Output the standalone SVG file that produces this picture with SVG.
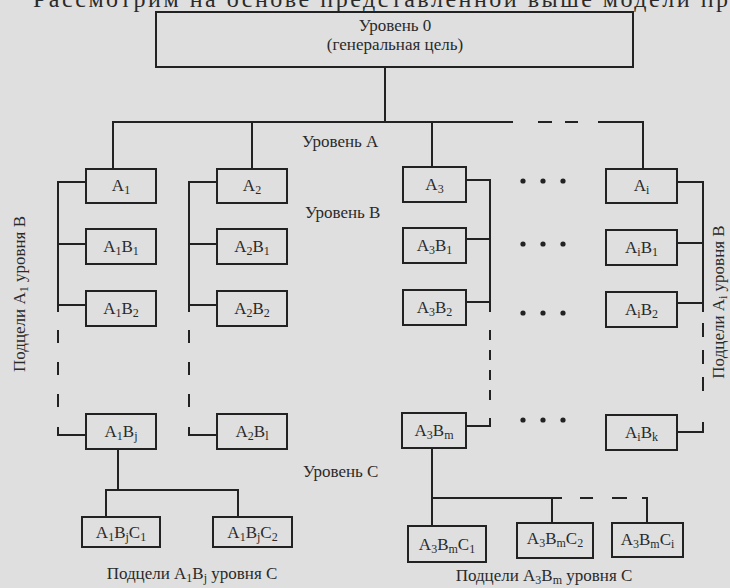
<svg xmlns="http://www.w3.org/2000/svg" width="730" height="588" viewBox="0 0 730 588">
<style>
text{font-family:"Liberation Serif","Times New Roman",serif;fill:#2a2a2a;font-size:17px}
.c{text-anchor:middle}
.s{font-size:12px}
.box{fill:none;stroke:#222;stroke-width:2}
.ln{fill:none;stroke:#222;stroke-width:2}
.d1{stroke-dasharray:13 19}
.d2{stroke-dasharray:10 10}
.d3{stroke-dasharray:14 13}
.dot{fill:#222}
</style>
<rect width="730" height="588" fill="#dfdfdf"/>
<text x="33" y="7" style="font-size:24px" textLength="695" lengthAdjust="spacing">Рассмотрим на основе представленной выше модели пр</text>

<g id="connectors">
<path class="ln" d="M385 67V122M113 169V122H513M538 122H552M565 122H578M598 122H643V169M252 122V169M432 122V167"/>
<path class="ln" d="M86 182H58V312M58 244H86M58 305H86M58 427V435H86"/>
<path class="ln d1" d="M58 330V410"/>
<path class="ln" d="M217 182H189V312M189 244H217M189 305H217M189 427V435H217"/>
<path class="ln d1" d="M189 330V410"/>
<path class="ln" d="M466 180H490V312M466 239H490M466 302H490M490 418V426H466"/>
<path class="ln d2" d="M490 330V405"/>
<path class="ln" d="M677 182H703V312M677 243H703M677 303H703M703 422V432H677"/>
<path class="ln d3" d="M703 323V395"/>
<path class="ln" d="M118 449V490M106 517V490H238V517"/>
<path class="ln" d="M432 448V526M432 498H562M580 498H593M612 498H627M642 498H647V523M552 498V523"/>
</g>

<g id="dots">
<circle class="dot" cx="523" cy="181" r="2.6"/><circle class="dot" cx="543" cy="181" r="2.6"/><circle class="dot" cx="563" cy="181" r="2.6"/>
<circle class="dot" cx="523" cy="244" r="2.6"/><circle class="dot" cx="543" cy="244" r="2.6"/><circle class="dot" cx="563" cy="244" r="2.6"/>
<circle class="dot" cx="523" cy="313" r="2.6"/><circle class="dot" cx="543" cy="313" r="2.6"/><circle class="dot" cx="563" cy="313" r="2.6"/>
<circle class="dot" cx="523" cy="420" r="2.6"/><circle class="dot" cx="543" cy="420" r="2.6"/><circle class="dot" cx="563" cy="420" r="2.6"/>
</g>

<g id="n0"><rect class="box" x="156" y="12" width="477" height="55"/>
<text class="c" x="395" y="31">Уровень 0</text><text class="c" x="395" y="50">(генеральная цель)</text></g>

<g id="a1"><rect class="box" x="86" y="169" width="70" height="34"/><text class="c" x="121" y="191">A<tspan class="s" dy="3">1</tspan></text></g>
<g id="a2"><rect class="box" x="217" y="169" width="70" height="34"/><text class="c" x="252" y="191">A<tspan class="s" dy="3">2</tspan></text></g>
<g id="a3"><rect class="box" x="403" y="167" width="63" height="35"/><text class="c" x="434.5" y="190">A<tspan class="s" dy="3">3</tspan></text></g>
<g id="ai"><rect class="box" x="606" y="169" width="71" height="34"/><text class="c" x="641.5" y="191">A<tspan class="s" dy="3">i</tspan></text></g>

<g id="a1b1"><rect class="box" x="86" y="229" width="70" height="35"/><text class="c" x="121" y="252">A<tspan class="s" dy="3">1</tspan><tspan dy="-3">B</tspan><tspan class="s" dy="3">1</tspan></text></g>
<g id="a2b1"><rect class="box" x="217" y="229" width="70" height="35"/><text class="c" x="252" y="252">A<tspan class="s" dy="3">2</tspan><tspan dy="-3">B</tspan><tspan class="s" dy="3">1</tspan></text></g>
<g id="a3b1"><rect class="box" x="403" y="228" width="63" height="35"/><text class="c" x="434.5" y="251">A<tspan class="s" dy="3">3</tspan><tspan dy="-3">B</tspan><tspan class="s" dy="3">1</tspan></text></g>
<g id="aib1"><rect class="box" x="606" y="230" width="71" height="35"/><text class="c" x="641.5" y="253">A<tspan class="s" dy="3">i</tspan><tspan dy="-3">B</tspan><tspan class="s" dy="3">1</tspan></text></g>

<g id="a1b2"><rect class="box" x="86" y="291" width="70" height="35"/><text class="c" x="121" y="314">A<tspan class="s" dy="3">1</tspan><tspan dy="-3">B</tspan><tspan class="s" dy="3">2</tspan></text></g>
<g id="a2b2"><rect class="box" x="217" y="291" width="70" height="35"/><text class="c" x="252" y="314">A<tspan class="s" dy="3">2</tspan><tspan dy="-3">B</tspan><tspan class="s" dy="3">2</tspan></text></g>
<g id="a3b2"><rect class="box" x="403" y="290" width="63" height="35"/><text class="c" x="434.5" y="313">A<tspan class="s" dy="3">3</tspan><tspan dy="-3">B</tspan><tspan class="s" dy="3">2</tspan></text></g>
<g id="aib2"><rect class="box" x="606" y="292" width="71" height="35"/><text class="c" x="641.5" y="315">A<tspan class="s" dy="3">i</tspan><tspan dy="-3">B</tspan><tspan class="s" dy="3">2</tspan></text></g>

<g id="a1bj"><rect class="box" x="86" y="414" width="70" height="35"/><text class="c" x="121" y="437">A<tspan class="s" dy="3">1</tspan><tspan dy="-3">B</tspan><tspan class="s" dy="3">j</tspan></text></g>
<g id="a2bl"><rect class="box" x="217" y="414" width="70" height="35"/><text class="c" x="252" y="437">A<tspan class="s" dy="3">2</tspan><tspan dy="-3">B</tspan><tspan class="s" dy="3">l</tspan></text></g>
<g id="a3bm"><rect class="box" x="402" y="413" width="64" height="35"/><text class="c" x="434" y="436">A<tspan class="s" dy="3">3</tspan><tspan dy="-3">B</tspan><tspan class="s" dy="3">m</tspan></text></g>
<g id="aibk"><rect class="box" x="606" y="415" width="71" height="35"/><text class="c" x="641.5" y="438">A<tspan class="s" dy="3">i</tspan><tspan dy="-3">B</tspan><tspan class="s" dy="3">k</tspan></text></g>

<g id="a1bjc1"><rect class="box" x="82" y="517" width="78" height="30"/><text class="c" x="121" y="538">A<tspan class="s" dy="3">1</tspan><tspan dy="-3">B</tspan><tspan class="s" dy="3">j</tspan><tspan dy="-3">C</tspan><tspan class="s" dy="3">1</tspan></text></g>
<g id="a1bjc2"><rect class="box" x="213" y="517" width="79" height="30"/><text class="c" x="252.5" y="538">A<tspan class="s" dy="3">1</tspan><tspan dy="-3">B</tspan><tspan class="s" dy="3">j</tspan><tspan dy="-3">C</tspan><tspan class="s" dy="3">2</tspan></text></g>
<g id="a3bmc1"><rect class="box" x="408" y="526" width="78" height="36"/><text class="c" x="447" y="550">A<tspan class="s" dy="3">3</tspan><tspan dy="-3">B</tspan><tspan class="s" dy="3">m</tspan><tspan dy="-3">C</tspan><tspan class="s" dy="3">1</tspan></text></g>
<g id="a3bmc2"><rect class="box" x="517" y="523" width="76" height="35"/><text class="c" x="555" y="544">A<tspan class="s" dy="3">3</tspan><tspan dy="-3">B</tspan><tspan class="s" dy="3">m</tspan><tspan dy="-3">C</tspan><tspan class="s" dy="3">2</tspan></text></g>
<g id="a3bmci"><rect class="box" x="612" y="523" width="71" height="34"/><text class="c" x="647.5" y="545">A<tspan class="s" dy="3">3</tspan><tspan dy="-3">B</tspan><tspan class="s" dy="3">m</tspan><tspan dy="-3">C</tspan><tspan class="s" dy="3">i</tspan></text></g>

<g id="labels">
<text x="302" y="147">Уровень A</text>
<text x="305" y="218">Уровень B</text>
<text x="303" y="477">Уровень C</text>
<text class="c" x="192" y="579">Подцели A<tspan class="s" dy="3">1</tspan><tspan dy="-3">B</tspan><tspan class="s" dy="3">j</tspan><tspan dy="-3"> уровня C</tspan></text>
<text class="c" x="544" y="581">Подцели A<tspan class="s" dy="3">3</tspan><tspan dy="-3">B</tspan><tspan class="s" dy="3">m</tspan><tspan dy="-3"> уровня C</tspan></text>
<text class="c" transform="translate(25 294) rotate(-90)">Подцели A<tspan class="s" dy="3">1</tspan><tspan dy="-3"> уровня B</tspan></text>
<text class="c" transform="translate(724 302) rotate(-90)">Подцели A<tspan class="s" dy="3">i</tspan><tspan dy="-3"> уровня B</tspan></text>
</g>
</svg>
